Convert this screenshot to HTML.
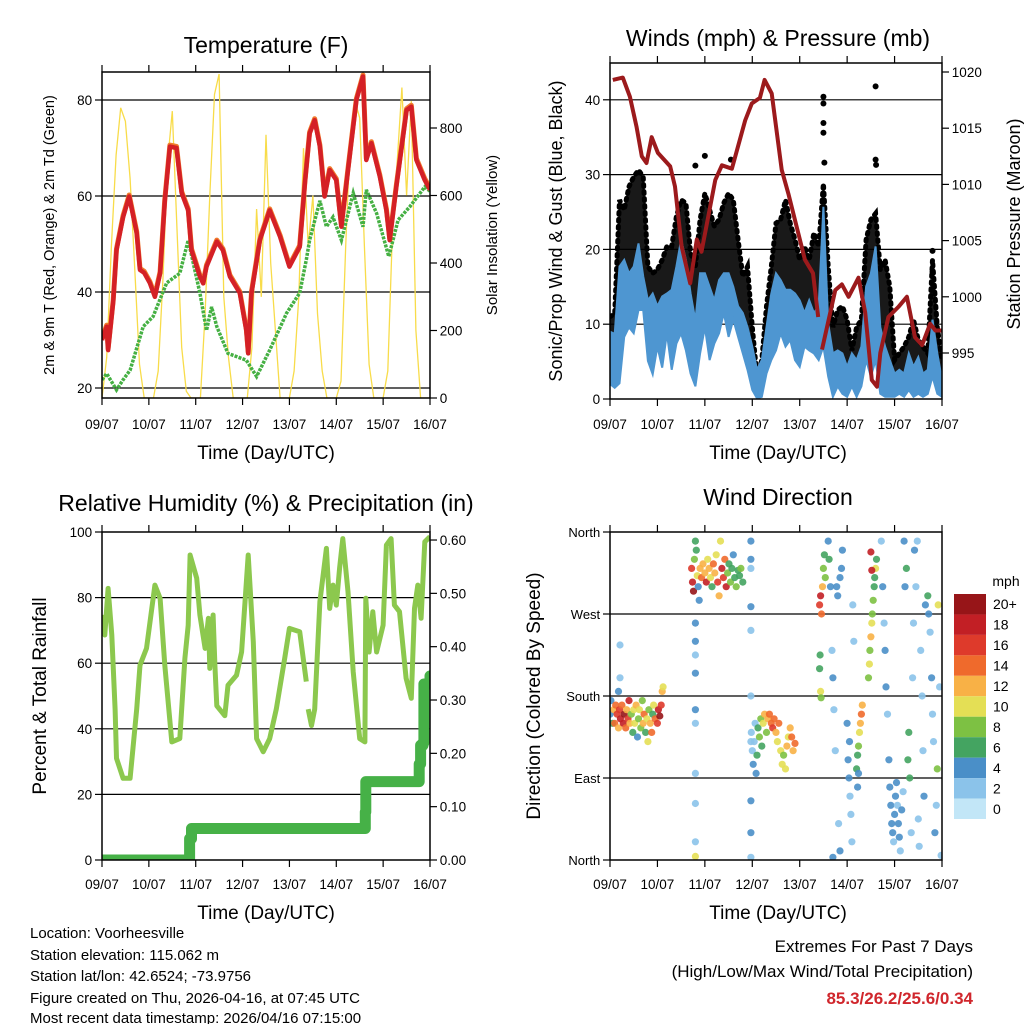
<!DOCTYPE html>
<html><head><meta charset="utf-8"><style>
html,body{margin:0;padding:0;background:#fff;}
svg{display:block;font-family:"Liberation Sans",sans-serif;}
</style></head><body>
<svg id="chart" width="1024" height="1024" viewBox="0 0 1024 1024">
<defs>
<clipPath id="c1"><rect x="102" y="72" width="328" height="326"/></clipPath>
<clipPath id="c2"><rect x="610" y="63" width="332" height="336"/></clipPath>
<clipPath id="c3"><rect x="102" y="532" width="328" height="328"/></clipPath>
<clipPath id="c4"><rect x="610" y="532" width="332" height="328"/></clipPath>
</defs>
<text x="266" y="53" font-size="23" text-anchor="middle">Temperature (F)</text>
<text x="778" y="46" font-size="23" text-anchor="middle">Winds (mph) &amp; Pressure (mb)</text>
<text x="266" y="511" font-size="23" text-anchor="middle">Relative Humidity (%) &amp; Precipitation (in)</text>
<text x="778" y="505" font-size="23" text-anchor="middle">Wind Direction</text>
<text x="266" y="459" font-size="19" text-anchor="middle">Time (Day/UTC)</text>
<text x="778" y="459" font-size="19" text-anchor="middle">Time (Day/UTC)</text>
<text x="266" y="919" font-size="19" text-anchor="middle">Time (Day/UTC)</text>
<text x="778" y="919" font-size="19" text-anchor="middle">Time (Day/UTC)</text>
<text transform="translate(54,235) rotate(-90)" font-size="14.5" text-anchor="middle">2m &amp; 9m T (Red, Orange) &amp; 2m Td (Green)</text>
<text transform="translate(497,235) rotate(-90)" font-size="15" text-anchor="middle">Solar Insolation (Yellow)</text>
<text transform="translate(562,231) rotate(-90)" font-size="18" text-anchor="middle">Sonic/Prop Wind &amp; Gust (Blue, Black)</text>
<text transform="translate(1020,224) rotate(-90)" font-size="18" text-anchor="middle">Station Pressure (Maroon)</text>
<text transform="translate(46,696) rotate(-90)" font-size="19" text-anchor="middle">Percent &amp; Total Rainfall</text>
<text transform="translate(540,696) rotate(-90)" font-size="19" text-anchor="middle">Direction (Colored By Speed)</text>
<g font-size="15">
<text x="30" y="938">Location: Voorheesville</text>
<text x="30" y="960">Station elevation: 115.062 m</text>
<text x="30" y="981">Station lat/lon: 42.6524; -73.9756</text>
<text x="30" y="1003">Figure created on Thu, 2026-04-16, at 07:45 UTC</text>
<text x="30" y="1024" dy="-1">Most recent data timestamp: 2026/04/16 07:15:00</text>
</g>
<g font-size="17" text-anchor="end">
<text x="973" y="952">Extremes For Past 7 Days</text>
<text x="973" y="977">(High/Low/Max Wind/Total Precipitation)</text>
<text x="973" y="1004" fill="#d0262c" font-weight="bold">85.3/26.2/25.6/0.34</text>
</g>
<text x="1006" y="586" font-size="14" text-anchor="middle">mph</text>
</svg>
<script>
// ---------- data ----------
var dayLabels = ["09/07","10/07","11/07","12/07","13/07","14/07","15/07","16/07"];
var tempTicks = [20,40,60,80];
var solarTicks = [0,200,400,600,800];
var windTicks = [0,10,20,30,40];
var pressTicks = [995,1000,1005,1010,1015,1020];
var rhTicks = [0,20,40,60,80,100];
var rainTicks = ["0.00","0.10","0.20","0.30","0.40","0.50","0.60"];
var dirTicks = ["North","East","South","West","North"];
var speedBins = ["0","2","4","6","8","10","12","14","16","18","20+"];
var speedColors = ["#c2e6f7","#8bc3ea","#4a8fc8","#44a461","#7dc143","#e4df55","#f8b146","#ef6a2c","#de3a2b","#c21f25","#971518"];

var tempT = [0,0.1,0.13,0.24,0.31,0.45,0.58,0.74,0.81,0.9,1.02,1.13,1.24,1.34,1.45,1.59,1.7,1.84,1.91,2.09,2.16,2.23,2.45,2.58,2.73,2.94,3.08,3.12,3.19,3.37,3.58,3.8,4.0,4.22,4.33,4.43,4.54,4.65,4.75,4.86,5.0,5.11,5.25,5.43,5.57,5.64,5.75,5.93,6.07,6.14,6.28,6.5,6.6,6.71,6.89,7.0];
var tempV = [30,32.8,27.9,38,48.7,55.6,59.9,52.3,44.6,44,41.9,39,43.9,59,70.3,70,60.6,57,48.7,43.2,41.8,45.3,50.5,48.7,43.2,39.8,32,27.2,39.8,50.8,57,51.5,45.3,49.4,62.7,73,75.8,70.3,59.9,65.4,63.3,53.6,65.4,80,84.9,67.5,71,64,57,50.8,61.9,77.9,78.6,67.5,63.3,61.3];
var dewT = [0,0.1,0.31,0.45,0.6,0.88,1.09,1.38,1.66,1.84,2.09,2.23,2.34,2.45,2.69,3.08,3.3,3.58,3.94,4.22,4.36,4.43,4.65,4.79,4.93,5.11,5.36,5.57,5.64,5.86,6.12,6.32,6.57,6.89,7.0];
var dewV = [21.7,23,19.6,21.7,23.7,32.8,34.9,41.9,43.9,50.8,39.8,32,36.9,32.8,27.2,25.8,22.4,27.9,35.6,39.8,46.7,50.8,59,53.6,55.6,50.8,60.6,53.6,61.3,56.4,47.4,55,57.8,61.9,61];
var solarV = [0,120,450,720,860,820,650,380,100,0, 0,0,80,350,700,850,500,150,20,0, 0,0,250,600,900,960,300,120,0,0, 0,0,150,560,300,780,400,200,0,0, 0,80,300,740,450,600,250,80,0,0, 0,50,450,780,880,830,450,100,0,0, 0,80,500,700,920,600,880,200,0,0,0];

var pressT = [0.06,0.27,0.42,0.56,0.67,0.77,0.88,1.01,1.27,1.37,1.51,1.69,1.83,1.93,2.22,2.36,2.57,2.85,2.99,3.16,3.26,3.41,3.62,3.76,4.11,4.28,4.39,null,4.47,4.75,4.89,5.03,5.24,5.38,5.52,5.63,5.7,5.87,6.08,6.26,6.43,6.58,6.75,6.86,7.0];
var pressV = [1019.3,1019.5,1017.8,1015.1,1012.5,1011.9,1014.2,1012.8,1011.6,1009.8,1004.5,1001.2,1005.1,1004,1010.4,1011.7,1011.4,1015.7,1017.2,1017.7,1019.3,1018.1,1011.3,1009.2,1003.3,1002.1,998.2,null,995.3,1000.6,1001.1,1000,1001.7,998.6,992.6,992,995,998.2,999.1,1000,996.4,995.7,997.6,997,997];
var sonicLo = [2,1.5,2.1,8.3,9.6,8.8,11.9,11.9,5.1,3.3,7,4.2,8.8,3.9,7.4,8.8,6.5,3.4,1.7,6.1,9.6,5.2,7.4,8.8,11.5,8.3,10.6,8.3,6.1,3.9,1.2,0.1,0.3,3.4,5.2,6.5,8.8,7,7.9,5.2,4.3,7,6.5,6.1,5.2,7,3,0.3,1.7,0.7,0.3,1.7,0.3,1.7,5.2,3,5.2,0.7,0.3,0.3,0.3,0.7,0.3,1.2,0.3,0.7,0.3,0.7,3,0.7,0.3];
var sonicHi = [9,8.7,17.7,18.6,16.8,17.7,20.8,16.4,13.2,14.1,12.4,13.7,14.1,14.6,17.7,21.3,18.6,14.1,10.5,16.8,16.8,15,13.2,15.9,16.8,16.8,15,12.4,11.5,9.6,7,3.9,5.2,9.6,14.1,16.8,15.9,14.6,14.6,14.1,13.2,11.5,13.2,11.5,12.4,25.7,10.1,6.1,6.5,6.1,4.3,6.1,5.2,7,15,16.8,20.4,9.6,7,5.2,3.4,3.9,3.4,6.1,4.3,5.6,3.4,3.9,10.6,6.1,2.6];
var gustHi = [11,11.4,26.6,25.3,28.4,29.7,30.6,29.7,17.7,16.8,17.3,18.6,20.4,20.4,24.4,26.6,26.2,19.5,17.7,24,27.5,25.3,23.1,24,26.2,27.5,26.6,21.3,16.4,17.7,9.6,3,5.2,12.4,17.7,23.5,24,26.6,23.5,21.3,18.6,20.4,18.6,22.2,20.4,28.8,17.7,9.6,11.9,12.4,10.6,6.5,9.6,10.6,21.3,24,24.8,17.3,18.6,15,5.2,6.1,7,8.3,10.6,7.9,7,6.1,18.6,9.6,5.2];
var gustOutT = [4.5,4.5,4.5,4.5,4.52,5.6,5.6,5.61,1.8,2.0,2.55,6.8,6.8];
var gustOutV = [40.4,39.5,36.9,35.6,31.6,41.8,32,31.3,31.2,32.5,32,19.8,17];

var rhT = [0,0.06,0.13,0.21,0.28,0.31,0.45,0.6,0.74,0.81,0.95,1.13,1.24,1.34,1.49,1.66,1.77,1.84,1.88,2.02,2.09,2.2,2.27,2.3,2.37,2.41,2.45,2.62,2.69,2.87,2.98,3.12,3.23,3.3,3.44,3.58,3.72,3.9,4.0,4.22,4.36,null,4.4,4.47,4.54,4.65,4.79,4.86,4.93,5.0,5.07,5.14,5.25,5.36,5.5,5.61,5.63,5.7,5.78,5.86,6.0,6.07,6.17,6.24,6.35,6.49,6.6,6.67,6.74,6.81,6.89,7.0];
var rhV = [74.7,68.6,82.8,68.6,46,31,24.9,24.9,46,59.4,64.5,83.8,79.8,59.4,36,37,61.5,71.6,93,85.9,74.7,64.5,73.7,58.4,74.7,59.4,47,44,53.3,56.3,63.4,93,66.5,37,33,37,46,61.5,70.6,69.6,54.4,null,46,41,46,78.8,95,76.7,83.8,77.7,89,98,81.8,57.4,37,36,79.8,63.4,75.7,63.4,71.6,96,98,77.7,75.7,55.4,49.3,76.7,83.8,73.7,97,98.6];
var rainT = [0,1.85,1.87,1.91,5.6,5.62,5.63,6.75,6.77,6.8,6.85,6.87,7.0];
var rainV = [0,0,0.04,0.059,0.059,0.09,0.147,0.147,0.18,0.215,0.22,0.33,0.345];

var dirT = [0,0.02,0.05,0.08,0.1,0.12,0.15,0.18,0.2,0.22,0.25,0.28,0.3,0.33,0.35,0.38,0.4,0.42,0.45,0.48,0.5,0.52,0.55,0.58,0.6,0.62,0.65,0.68,0.7,0.72,0.75,0.78,0.8,0.82,0.85,0.88,0.9,0.92,0.95,1.0,1.02,1.05,1.08,1.1,1.12,0.21,0.21,0.18,
1.72,1.74,1.76,1.78,1.8,1.82,1.84,1.86,1.88,1.9,1.93,1.96,2.0,2.03,2.06,2.09,2.12,2.15,2.18,2.21,2.24,2.27,2.3,2.33,2.36,2.39,2.42,2.45,2.48,2.51,2.54,2.57,2.6,2.63,2.66,2.7,2.73,2.76,2.8,
1.8,1.8,1.8,1.8,1.8,1.8,1.8,1.8,1.8,1.8,2.97,2.97,2.97,2.97,2.97,2.97,2.97,2.97,2.97,2.97,
2.98,3.0,3.02,3.04,3.06,3.08,3.1,3.12,3.15,3.18,3.2,3.23,3.26,3.3,3.33,3.36,3.4,3.43,3.46,3.5,3.53,3.56,3.6,3.63,3.66,3.7,3.73,3.76,3.8,3.83,3.86,3.9,
4.42,4.44,4.46,4.48,4.5,4.52,4.54,4.42,4.43,4.44,4.45,
4.6,4.62,4.65,4.68,4.7,4.72,4.75,4.78,4.8,4.85,4.88,4.9,4.82,4.85,4.7,
5.0,5.02,5.04,5.06,5.08,5.1,5.12,5.14,5.05,5.2,5.22,5.24,5.26,5.28,5.3,5.32,5.24,5.22,
5.45,5.47,5.48,5.5,5.52,5.53,5.55,5.57,5.58,5.6,5.62,5.5,5.52,
5.72,5.75,5.78,5.8,5.82,5.85,5.88,5.9,5.92,5.94,5.96,5.98,6.0,6.02,6.04,6.06,6.08,6.1,6.12,6.15,6.18,6.2,6.22,6.25,6.28,6.3,6.32,6.35,6.38,6.4,6.42,6.45,6.48,6.5,6.52,6.55,6.58,6.6,6.62,6.65,6.7,6.72,6.75,6.78,6.8,6.82,6.85,6.88,6.9,6.92,6.95,6.98];
var dirV = [160,175,150,165,150,170,160,145,165,155,170,150,160,145,165,155,175,150,160,140,165,150,170,135,155,165,145,175,150,160,140,155,130,165,150,140,160,170,155,150,165,158,170,185,190,236,200,185,
320,305,295,330,350,340,312,300,285,320,310,325,315,305,330,320,310,300,325,315,335,305,290,350,320,310,330,300,315,325,305,320,335,310,300,318,312,320,305,
260,240,225,205,165,150,95,62,20,4,350,320,330,278,252,180,130,65,30,3,
140,120,105,130,150,95,115,145,135,155,125,150,160,140,155,160,150,145,155,140,130,150,120,105,115,100,125,135,145,135,120,128,
280,290,270,300,320,335,310,210,225,185,178,
350,330,300,230,200,165,120,300,290,310,320,340,40,10,3,
150,110,90,70,50,20,280,240,130,100,115,125,140,150,160,170,95,80,
200,215,230,245,260,270,285,300,310,320,330,338,318,
350,300,260,230,190,160,110,80,60,40,30,20,50,70,85,60,40,25,10,55,75,350,300,320,110,140,90,30,200,260,340,300,350,45,15,230,180,120,70,280,290,270,250,200,160,130,30,60,100,280,190,5];
var dirS = [4,4,6,12,14,14,16,12,16,18,14,18,20,14,12,16,18,12,8,6,10,10,12,4,8,10,8,8,12,14,6,10,10,8,12,14,6,10,14,16,18,20,16,12,10,2,2,4,
16,18,20,8,6,6,10,4,4,12,14,12,12,18,10,12,10,6,14,12,10,16,12,10,18,16,14,18,8,6,8,6,4,6,8,6,6,8,6,
4,4,2,4,4,2,2,2,2,10,4,2,4,4,2,2,2,4,4,2,
2,2,4,2,2,4,6,6,8,8,6,10,12,8,12,14,14,16,14,12,10,14,10,10,8,10,12,10,12,14,12,14,
16,18,14,12,8,6,8,6,6,10,8,
4,6,4,2,4,2,2,4,4,4,4,4,2,4,4,
4,4,4,2,2,2,2,2,4,6,6,8,10,12,14,12,4,4,
8,10,8,12,10,8,8,6,6,10,6,18,18,
2,4,2,4,4,2,4,4,4,4,4,2,4,4,4,2,4,4,2,4,2,4,4,6,6,6,6,2,2,2,4,2,2,2,2,2,2,2,4,4,6,4,2,4,2,2,4,2,8,10,2,2];

// ---------- scales ----------
function x1(t){return 102+t*328/7;}
function x2(t){return 610+t*332/7;}
function yT(v){return 388-(v-20)*4.8;}
function yS(v){return 398-v*0.3375;}
function yW(v){return 399-v*7.48;}
function yP(v){return 72+(1020-v)*11.24;}
function yH(v){return 860-v*3.28;}
function yR(v){return 860-v*533.3;}
function yD(v){return 860-v*328/360;}

var NS="http://www.w3.org/2000/svg";
var svg=document.getElementById('chart');
function mk(parent,tag,attrs,name){
  var el=document.createElementNS(NS,tag);
  for(var k in attrs){el.setAttribute(k,attrs[k]);}
  
  
  parent.appendChild(el);return el;
}
function pathFrom(ts,vs,fx,fy){
  var d="",pen=false;
  for(var i=0;i<ts.length;i++){
    if(ts[i]===null||vs[i]===null){pen=false;continue;}
    d+=(pen?"L":"M")+fx(ts[i]).toFixed(1)+","+fy(vs[i]).toFixed(1);pen=true;
  }
  return d;
}
function idxT(n){var a=[];for(var i=0;i<n;i++)a.push(i*0.1);return a;}

function frame(L,T,R,B,name,gridYs){
  var g=mk(svg,'g',{},name);
  gridYs.forEach(function(y){mk(g,'line',{x1:L,x2:R,y1:y,y2:y,stroke:'#000','stroke-width':1.2},'grid-line');});
  return g;
}
function border(L,T,R,B,name){
  mk(svg,'rect',{x:L,y:T,width:R-L,height:B-T,fill:'none',stroke:'#000','stroke-width':1.5},name);
}
function xTicks(L,T,R,B,fx,ly,name){
  var g=mk(svg,'g',{},name);
  dayLabels.forEach(function(lab,i){
    var x=fx(i);
    mk(g,'line',{x1:x,x2:x,y1:B,y2:B+7,stroke:'#000','stroke-width':1.2},'x-tick');
    mk(g,'line',{x1:x,x2:x,y1:T-7,y2:T,stroke:'#000','stroke-width':1.2},'x-tick-top');
    var t=mk(g,'text',{x:x,y:ly,'font-size':13.5,'text-anchor':'middle'},'x-tick-label');
    t.textContent=lab;
  });
}
function yTicks(vals,labels,fy,x,side,name,fs){
  var g=mk(svg,'g',{},name);
  vals.forEach(function(v,i){
    var y=fy(v);
    var dx=side<0?-7:7;
    mk(g,'line',{x1:x,x2:x+dx,y1:y,y2:y,stroke:'#000','stroke-width':1.2},'y-tick');
    var t=mk(g,'text',{x:x+dx*1.4,y:y+5,'font-size':fs||13.5,'text-anchor':side<0?'end':'start'},'y-tick-label');
    t.textContent=labels[i];
  });
}

// ===== Panel 1: temperature =====
frame(102,72,430,398,'temp-grid',tempTicks.map(yT));
var g1=mk(svg,'g',{'clip-path':'url(#c1)'},'temperature-plot');
var solarT=idxT(solarV.length);
mk(g1,'path',{d:pathFrom(solarT,solarV,x1,yS),fill:'none',stroke:'#f8dc4a','stroke-width':1.3},'solar-insolation-line');
mk(g1,'path',{d:pathFrom(dewT,dewV,x1,yT),fill:'none',stroke:'#45b043','stroke-width':3.5,'stroke-dasharray':'3,1.2'},'dewpoint-line');
mk(g1,'path',{d:pathFrom(tempT,tempV,x1,yT),fill:'none',stroke:'#f07a2c','stroke-width':5,'stroke-linejoin':'round',transform:'translate(0,-1.5)'},'temp-9m-line');
mk(g1,'path',{d:pathFrom(tempT,tempV,x1,yT),fill:'none',stroke:'#d42026','stroke-width':4.5,'stroke-linejoin':'round'},'temp-2m-line');
border(102,72,430,398,'temp-plot-border');
xTicks(102,72,430,398,x1,429,'temp-x-ticks');
yTicks(tempTicks,tempTicks.map(String),yT,102,-1,'temp-y-ticks');
yTicks(solarTicks,solarTicks.map(String),yS,430,1,'solar-y-ticks');

// ===== Panel 2: winds =====
frame(610,63,942,399,'winds-grid',windTicks.slice(1).map(yW));
var g2=mk(svg,'g',{'clip-path':'url(#c2)'},'winds-plot');
var wT=idxT(sonicHi.length);
var gd=pathFrom(wT,gustHi,x2,yW);
var sd="";
for(var i=wT.length-1;i>=0;i--){sd+="L"+x2(wT[i]).toFixed(1)+","+yW(sonicHi[i]).toFixed(1);}
mk(g2,'path',{d:gd+sd+"Z",fill:'#000','fill-opacity':0.9},'gust-band');
mk(g2,'path',{d:gd,fill:'none',stroke:'#000','stroke-width':5,'stroke-dasharray':'2,5','stroke-linecap':'round'},'gust-dots');
for(var i=0;i<gustOutT.length;i++){
  mk(g2,'circle',{cx:x2(gustOutT[i]),cy:yW(gustOutV[i]),r:3,fill:'#000'},'gust-point');
}
var bd=pathFrom(wT,sonicHi,x2,yW);
var bl="";
for(var i=wT.length-1;i>=0;i--){bl+="L"+x2(wT[i]).toFixed(1)+","+yW(sonicLo[i]).toFixed(1);}
mk(g2,'path',{d:bd+bl+"Z",fill:'#4e96d1',stroke:'#4e96d1','stroke-width':2},'sonic-wind-band');
mk(g2,'path',{d:pathFrom(pressT,pressV,x2,yP),fill:'none',stroke:'#9c1a1c','stroke-width':4,'stroke-linejoin':'round'},'pressure-line');
border(610,63,942,399,'winds-plot-border');
xTicks(610,63,942,399,x2,429,'winds-x-ticks');
yTicks(windTicks,windTicks.map(String),yW,610,-1,'wind-y-ticks');
yTicks(pressTicks,pressTicks.map(String),yP,942,1,'pressure-y-ticks');

// ===== Panel 3: humidity =====
frame(102,532,430,860,'humidity-grid',[20,40,60,80].map(yH));
var g3=mk(svg,'g',{'clip-path':'url(#c3)'},'humidity-plot');
mk(g3,'path',{d:pathFrom(rhT,rhV,x1,yH),fill:'none',stroke:'#8cc84e','stroke-width':5,'stroke-linejoin':'round'},'humidity-line');
var rd="";
for(var i=0;i<rainT.length;i++){
  var px=x1(rainT[i]),py=yR(rainV[i]);
  if(i>0){rd+="L"+px.toFixed(1)+","+yR(rainV[i-1]).toFixed(1);}
  rd+=(i===0?"M":"L")+px.toFixed(1)+","+py.toFixed(1);
}
mk(g3,'path',{d:rd,fill:'none',stroke:'#46b147','stroke-width':11,'stroke-linecap':'round','stroke-linejoin':'round'},'precipitation-line');
border(102,532,430,860,'humidity-plot-border');
xTicks(102,532,430,860,x1,889,'humidity-x-ticks');
yTicks(rhTicks,rhTicks.map(String),yH,102,-1,'humidity-y-ticks');
yTicks(rainTicks.map(Number),rainTicks,yR,430,1,'rain-y-ticks');

// ===== Panel 4: wind direction =====
frame(610,532,942,860,'direction-grid',[90,180,270].map(yD));
var g4=mk(svg,'g',{'clip-path':'url(#c4)'},'direction-plot');
for(var i=0;i<dirT.length;i++){
  var bin=Math.min(10,Math.floor(dirS[i]/2));
  mk(g4,'circle',{cx:x2(dirT[i]).toFixed(1),cy:yD(dirV[i]).toFixed(1),r:3.6,fill:speedColors[bin],'fill-opacity':0.9},'direction-point');
}
border(610,532,942,860,'direction-plot-border');
xTicks(610,532,942,860,x2,889,'direction-x-ticks');
yTicks([0,90,180,270,360],dirTicks,yD,610,-1,'direction-y-ticks',13);

// colorbar
var cb=mk(svg,'g',{},'speed-colorbar');
var bh=225/11;
for(var i=0;i<11;i++){
  var k=10-i;
  var y=594+i*bh;
  mk(cb,'rect',{x:954,y:y,width:32,height:bh,fill:speedColors[k]},'colorbar-box');
  var t=mk(cb,'text',{x:993,y:y+bh/2+5,'font-size':14},'colorbar-label');
  t.textContent=speedBins[k];
}
</script>
</body></html>
